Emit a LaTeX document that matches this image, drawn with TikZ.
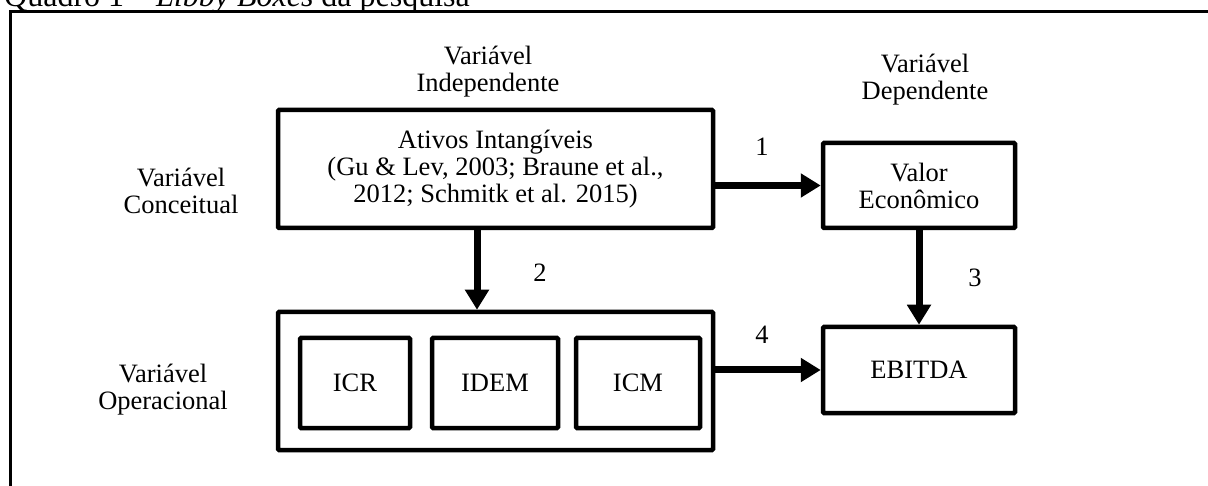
\documentclass[tikz,border=0pt]{standalone}
\usepackage{fontspec}
\setmainfont{Liberation Serif}
\usetikzlibrary{arrows.meta}
\begin{document}
\begin{tikzpicture}[x=1pt,y=-1pt,
  txt/.style={font=\fontsize{26.5}{27}\selectfont, align=center, inner sep=0pt},
  box/.style={txt, draw, line width=4.5pt, rounded corners=1pt},
  arr/.style={line width=7pt, -{Triangle[length=20pt,width=23pt]}},
  framestyle/.style={line width=3pt}]
\useasboundingbox (0,0) rectangle (1208,486);
% title and frame
\node[anchor=base west, inner sep=0pt, font=\fontsize{32}{34}\selectfont] (title) at (4,7) {Quadro 1 – \textit{Libby Boxes} da pesquisa};
\coordinate (fr) at (1220,12);
\coordinate (fc) at (10,12);
\coordinate (fb) at (10,500);
\draw[framestyle] (fr) -- (fc) -- (fb);
% boxes
\node[box, minimum width=435pt, minimum height=118pt] (ativos) at (495.5,169) {Ativos Intangíveis\\(Gu \& Lev, 2003; Braune et al.,\\2012; Schmitk et al. 2015)};
\node[box, minimum width=192pt, minimum height=85pt] (valor) at (919,185.5) {Valor\\Econômico};
\node[box, minimum width=435pt, minimum height=138pt] (op) at (495.5,381) {};
\node[box, minimum width=110pt, minimum height=90pt] (icr) at (355,383) {ICR};
\node[box, minimum width=126pt, minimum height=90pt] (idem) at (495,383) {IDEM};
\node[box, minimum width=124pt, minimum height=90pt] (icm) at (638,383) {ICM};
\node[box, minimum width=192pt, minimum height=86pt] (ebitda) at (919,370) {EBITDA};
% labels
\node[txt] (lindep) at (488,72) {Variável\\Independente};
\node[txt] (ldep) at (925,80) {Variável\\Dependente};
\node[txt] (lconc) at (181,191) {Variável\\Conceitual};
\node[txt] (loper) at (163,390) {Variável\\Operacional};
\node[txt] (n1) at (762,147) {1};
\node[txt] (n2) at (540,273) {2};
\node[txt] (n3) at (975,278) {3};
\node[txt] (n4) at (762,335) {4};
% arrows
\draw[arr] (ativos.east |- valor.west) -- (valor.west);
\draw[arr] ([xshift=-18.5pt]ativos.south) -- ([xshift=-18.5pt]op.north);
\draw[arr] (valor.south) -- (ebitda.north);
\draw[arr] (op.east |- ebitda.west) -- (ebitda.west);
\end{tikzpicture}
\end{document}
